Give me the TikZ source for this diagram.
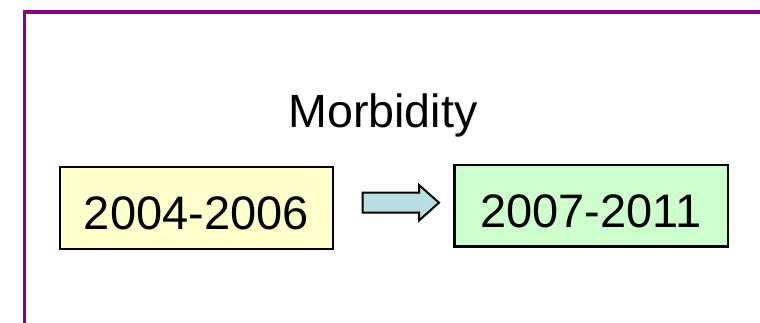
\documentclass[tikz,border=0pt]{standalone}
\usepackage{fontspec}
\setmainfont{Liberation Sans}
\definecolor{framepurple}{RGB}{138,0,135}
\definecolor{boxyellow}{RGB}{255,255,204}
\definecolor{boxgreen}{RGB}{204,255,204}
\definecolor{arrowblue}{RGB}{185,222,226}
\begin{document}
\begin{tikzpicture}[x=1pt,y=-1pt,
  yearbox/.style={draw=black,line width=2.3pt,inner sep=0pt,anchor=north west,
    text height=43pt,text depth=0pt,font=\fontsize{47}{56}\selectfont},
  blockarrow/.style={draw=black,line width=2pt,fill=arrowblue,line join=miter}]
\useasboundingbox (0,0) rectangle (760,322);
\draw[framepurple,line width=3.2pt] (24.3,323) -- (24.3,12) -- (761,12);
\node[font=\fontsize{46.6}{56}\selectfont,anchor=base] (title) at (383,127.7) {Morbidity};
\node[yearbox,fill=boxyellow,minimum width=273pt,minimum height=82pt] (a) at (58.6,165.7) {2004-2006};
\node[yearbox,fill=boxgreen,minimum width=273.4pt,minimum height=81.6pt] (b) at (453.2,163.7) {2007-2011};
\draw[blockarrow] (362.7,192.7) -- (419,192.7) -- (419,185) -- (439,202.7) -- (419,220.5) -- (419,212.7) -- (362.7,212.7) -- cycle;
\end{tikzpicture}
\end{document}
